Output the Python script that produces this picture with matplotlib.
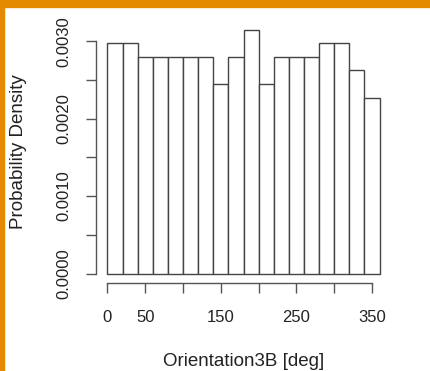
import numpy as np
import matplotlib
matplotlib.use("Agg")
import matplotlib.pyplot as plt
from matplotlib.patches import Rectangle

plt.rcParams['font.family'] = ['Liberation Sans', 'DejaVu Sans']

# histogram data (counts per 20 deg bin)
bin_edges = [0, 20, 40, 60, 80, 100, 120, 140, 160, 180, 200, 220, 240, 260, 280, 300, 320, 340, 360]
counts = [17, 17, 16, 16, 16, 16, 16, 14, 16, 18, 14, 16, 16, 16, 17, 17, 15, 13]
x_ticks = [0, 50, 100, 150, 200, 250, 300, 350]
x_labels = ['0', '50', '', '150', '', '250', '', '350']
y_ticks = [0, 0.0005, 0.0010, 0.0015, 0.0020, 0.0025, 0.0030]
y_labels = ['0.0000', '', '0.0010', '', '0.0020', '', '0.0030']

W, H = 431, 371
fig = plt.figure(figsize=(W / 100, H / 100), dpi=100)
ax = fig.add_axes([96.5 / W, 1 - 283.3 / H, (390.5 - 96.5) / W, (283.3 - 20.1) / H])

ax.hist(bin_edges[:-1], bins=bin_edges, weights=counts, density=True,
        color='white', edgecolor='#444444', linewidth=1.0)

# R style: 4% padding and detached axes
ax.set_xlim(-14.4, 374.4)
ax.set_ylim(-0.000126, 0.003273)
for s in ['top', 'right']:
    ax.spines[s].set_visible(False)
ax.spines['left'].set_bounds(0, 0.003)
ax.spines['bottom'].set_bounds(0, 350)
for s in ['left', 'bottom']:
    ax.spines[s].set_color('#555555')
    ax.spines[s].set_linewidth(1.0)

ax.set_xticks(x_ticks)
ax.set_xticklabels(x_labels)
ax.set_yticks(y_ticks)
ax.set_yticklabels(y_labels, rotation=90, va='center')
ax.tick_params(axis='both', length=7.2, width=1.0, color='#555555',
               labelsize=12, labelcolor='#222222')
ax.tick_params(axis='x', pad=12)
ax.tick_params(axis='y', pad=11)

fig.text(243.5 / W, 1 - 362 / H, 'Orientation3B [deg]', ha='center', va='center',
         fontsize=13.5, color='#222222')
fig.text(18.5 / W, 1 - 151.7 / H, 'Probability Density', ha='center', va='center',
         rotation=90, fontsize=13.5, color='#222222')

# orange frame on top and left
orange = '#E38A00'
fig.patches.append(Rectangle((0, 1 - 7 / H), 1, 7 / H, transform=fig.transFigure,
                             color=orange, zorder=10))
fig.patches.append(Rectangle((0, 0), 4 / W, 1, transform=fig.transFigure,
                             color=orange, zorder=10))

fig.savefig('out.png', dpi=100)
